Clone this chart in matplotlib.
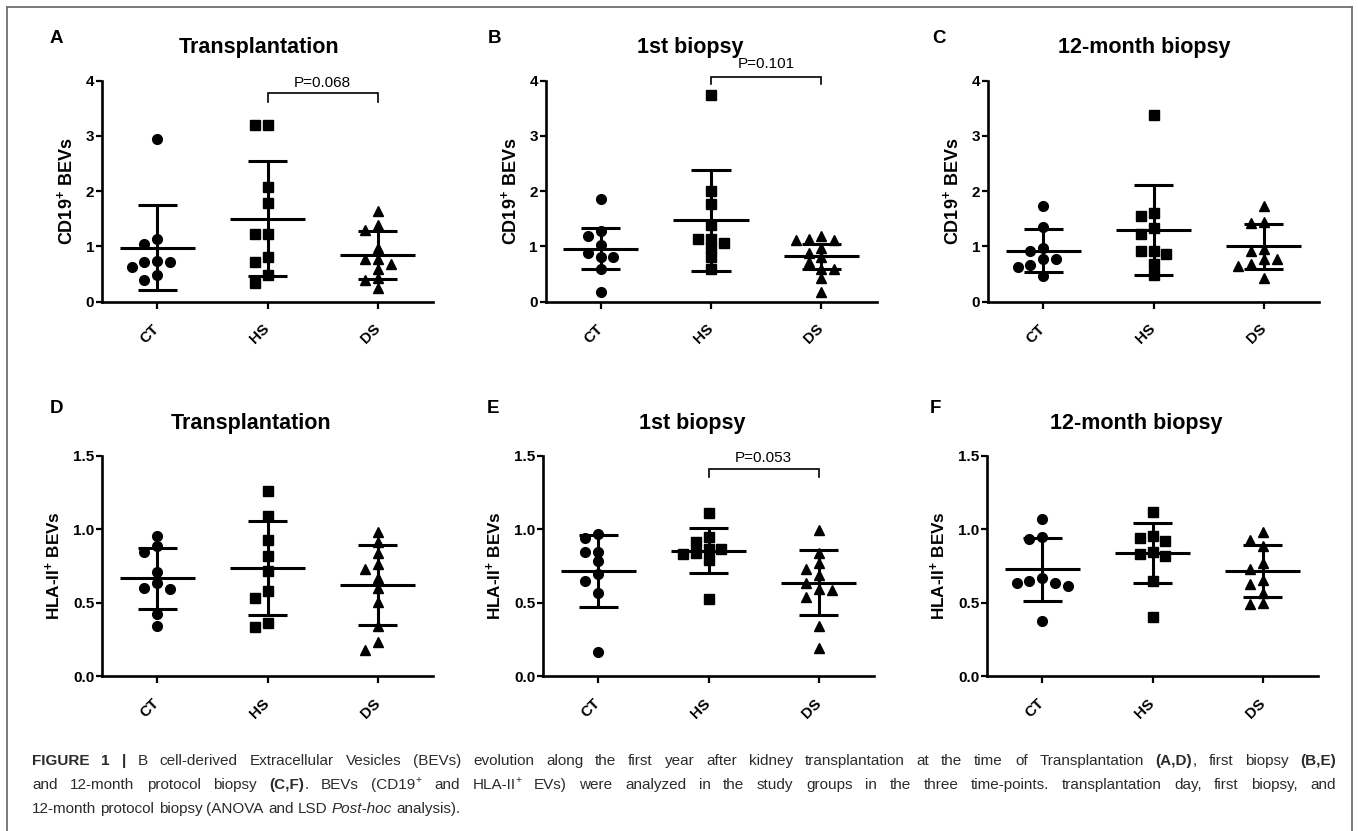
import re
import matplotlib
matplotlib.use("Agg")
import matplotlib.pyplot as plt
from matplotlib.lines import Line2D

plt.rcParams['font.family'] = ['Liberation Sans', 'DejaVu Sans']
plt.rcParams['mathtext.fontset'] = 'custom'
plt.rcParams['mathtext.rm'] = 'Liberation Sans'
plt.rcParams['mathtext.bf'] = 'Liberation Sans:bold'
plt.rcParams['mathtext.it'] = 'Liberation Sans:italic'

W, H = 1358, 831

# ---------------- data ----------------
groups = ["CT", "HS", "DS"]
titles_top = ["Transplantation", "1st biopsy", "12-month biopsy"]
titles_bot = ["Transplantation", "1st biopsy", "12-month biopsy"]
letters_top = ["A", "B", "C"]
letters_bot = ["D", "E", "F"]

# CD19+ BEVs
a_ct = [2.94, 1.13, 1.04, 0.74, 0.72, 0.72, 0.62, 0.49, 0.40]
a_hs = [3.19, 3.19, 2.08, 1.79, 1.22, 1.22, 0.80, 0.71, 0.48, 0.34]
a_ds = [1.65, 1.38, 1.29, 0.98, 0.77, 0.77, 0.68, 0.59, 0.42, 0.40, 0.24]
a_mean = [0.98, 1.505, 0.845]
a_sd = [0.77, 1.045, 0.443]

b_ct = [1.86, 1.28, 1.19, 1.03, 0.89, 0.81, 0.80, 0.59, 0.17]
b_hs = [3.75, 2.01, 1.77, 1.39, 1.13, 1.13, 1.06, 0.97, 0.80, 0.60]
b_ds = [1.19, 1.13, 1.11, 1.11, 0.97, 0.89, 0.80, 0.72, 0.60, 0.60, 0.42, 0.18]
b_mean = [0.958, 1.47, 0.82]
b_sd = [0.37, 0.913, 0.227]

c_ct = [1.73, 1.36, 0.97, 0.92, 0.77, 0.77, 0.66, 0.62, 0.46]
c_hs = [3.38, 1.61, 1.55, 1.33, 1.22, 0.92, 0.92, 0.86, 0.68, 0.48]
c_ds = [1.74, 1.45, 1.43, 0.95, 0.92, 0.78, 0.78, 0.69, 0.65, 0.43]
c_mean = [0.92, 1.30, 1.0]
c_sd = [0.39, 0.82, 0.41]

# HLA-II+ BEVs
d_ct = [0.953, 0.887, 0.846, 0.71, 0.635, 0.60, 0.59, 0.42, 0.34]
d_hs = [1.26, 1.09, 0.926, 0.817, 0.715, 0.579, 0.533, 0.358, 0.331]
d_ds = [0.978, 0.914, 0.84, 0.76, 0.728, 0.665, 0.60, 0.506, 0.34, 0.23, 0.18]
d_mean = [0.665, 0.733, 0.62]
d_sd = [0.209, 0.32, 0.272]

e_ct = [0.967, 0.937, 0.846, 0.842, 0.785, 0.692, 0.649, 0.563, 0.161]
e_hs = [1.112, 0.944, 0.91, 0.865, 0.862, 0.835, 0.828, 0.79, 0.524]
e_ds = [0.994, 0.835, 0.77, 0.726, 0.688, 0.635, 0.592, 0.585, 0.54, 0.34, 0.188]
e_mean = [0.715, 0.853, 0.635]
e_sd = [0.247, 0.155, 0.222]

f_ct = [1.069, 0.948, 0.933, 0.669, 0.649, 0.635, 0.631, 0.613, 0.377]
f_hs = [1.119, 0.955, 0.937, 0.919, 0.842, 0.83, 0.819, 0.649, 0.404]
f_ds = [0.978, 0.926, 0.887, 0.771, 0.726, 0.653, 0.624, 0.563, 0.499, 0.488]
f_mean = [0.726, 0.835, 0.715]
f_sd = [0.216, 0.205, 0.178]

# significance annotations
p_labels = {"A": "P=0.068", "B": "P=0.101", "E": "P=0.053"}

top_yticks = [0, 1, 2, 3, 4]
bot_yticks = [0.0, 0.5, 1.0, 1.5]

# ---------------- figure ----------------
fig = plt.figure(figsize=(W / 100, H / 100), dpi=100)
fig.patch.set_facecolor("white")

def fx(px):
    return px / W

def fy(py):
    return 1 - py / H

# border (top, left, right)
border_col = "#6e6e6e"
fig.add_artist(Line2D([fx(7), fx(1352)], [fy(7), fy(7)], color=border_col, lw=1.3))
fig.add_artist(Line2D([fx(7), fx(7)], [fy(7), 0], color=border_col, lw=1.3))
fig.add_artist(Line2D([fx(1352), fx(1352)], [fy(7), 0], color=border_col, lw=1.3))

markers = ["o", "s", "^"]
msizes = [7.0, 6.5, 7.4]

def swarm_offsets(vals, px_per_unit, step, thr_px=8.5):
    order = sorted(range(len(vals)), key=lambda k: -vals[k])
    placed = []
    offs = [0.0] * len(vals)
    for k in order:
        for slot in [0, -1, 1, -2, 2, -3, 3]:
            ok = True
            for (s, v) in placed:
                if s == slot and abs(v - vals[k]) * px_per_unit < thr_px:
                    ok = False
                    break
            if ok:
                placed.append((slot, vals[k]))
                offs[k] = slot * step
                break
    return offs

def make_panel(left_px, top_px, bottom_px, data, means, sds, ymax, yticks, ylabel, ylfs,
               fmt, letter, title, title_x, letter_x, title_base, letter_base, pinfo=None):
    ax_w = 331
    ax = fig.add_axes([fx(left_px), fy(bottom_px), ax_w / W, (bottom_px - top_px) / H])
    ax.set_xlim(-0.5, 2.5)
    ax.set_ylim(0, ymax)
    px_per_unit = (bottom_px - top_px) / ymax
    step = 12.8 / (ax_w / 3.0)
    for i, vals in enumerate(data):
        offs = swarm_offsets(vals, px_per_unit, step)
        ax.plot([i + o for o in offs], vals, linestyle="none", marker=markers[i],
                ms=msizes[i], color="black", zorder=2, clip_on=False)
        m, s = means[i], sds[i]
        ax.vlines(i, m - s, m + s, color="black", lw=2.2, zorder=3)
        ax.hlines([m - s, m + s], i - 0.177, i + 0.177, color="black", lw=2.2, zorder=3)
        ax.hlines(m, i - 0.34, i + 0.34, color="black", lw=2.2, zorder=3)
    for sp in ["top", "right"]:
        ax.spines[sp].set_visible(False)
    for sp in ["left", "bottom"]:
        ax.spines[sp].set_linewidth(1.9)
    ax.set_yticks(yticks)
    ax.set_yticklabels([fmt.format(t) for t in yticks], fontsize=11, fontweight="bold")
    ax.set_xticks(range(3))
    ax.set_xticklabels(groups, fontsize=11, fontweight="bold", rotation=45,
                       ha="right", va="center", rotation_mode="anchor")
    ax.tick_params(axis="y", direction="out", length=4, width=1.6, pad=1.5)
    ax.tick_params(axis="x", direction="out", length=5, width=1.6, pad=13)
    ax.set_ylabel(ylabel, fontsize=ylfs, fontweight="bold", labelpad=7)
    fig.text(fx(letter_x), fy(letter_base), letter, fontsize=13.5, fontweight="bold",
             ha="left", va="baseline")
    fig.text(fx(title_x), fy(title_base), title, fontsize=15.5, fontweight="bold",
             ha="center", va="baseline")
    if pinfo is not None:
        ybar, ydrop, ytext, txt = pinfo
        ax.plot([1, 1, 2, 2], [ydrop, ybar, ybar, ydrop], color="black", lw=1.2,
                clip_on=False, solid_joinstyle="miter")
        ax.text(1.5, ytext, txt, fontsize=11, ha="center", va="center", clip_on=False)
    return ax

top_data = [([a_ct, a_hs, a_ds], a_mean, a_sd), ([b_ct, b_hs, b_ds], b_mean, b_sd),
            ([c_ct, c_hs, c_ds], c_mean, c_sd)]
bot_data = [([d_ct, d_hs, d_ds], d_mean, d_sd), ([e_ct, e_hs, e_ds], e_mean, e_sd),
            ([f_ct, f_hs, f_ds], f_mean, f_sd)]

top_left = [102, 545.5, 988]
bot_left = [102, 543, 987]
top_title_x = [259, 690, 1144]
bot_title_x = [251, 692, 1136]
top_letter_x = [50, 488, 932]
bot_letter_x = [50, 487, 930]
top_p = {0: (3.78, 3.62, 3.95, p_labels["A"]), 1: (4.06, 3.94, 4.30, p_labels["B"])}
bot_p = {1: (1.408, 1.354, 1.487, p_labels["E"])}

for j in range(3):
    d, m, s = top_data[j]
    make_panel(top_left[j], 80.7, 301.7, d, m, s, 4, top_yticks,
               r"CD19$^{\mathbf{+}}$ BEVs", 13.0, "{:d}", letters_top[j], titles_top[j],
               top_title_x[j], top_letter_x[j], 53, 43, top_p.get(j))
for j in range(3):
    d, m, s = bot_data[j]
    make_panel(bot_left[j], 455.7, 676, d, m, s, 1.5, bot_yticks,
               r"HLA-II$^{\mathbf{+}}$ BEVs", 12.3, "{:.1f}", letters_bot[j], titles_bot[j],
               bot_title_x[j], bot_letter_x[j], 429, 413, bot_p.get(j))

# ---------------- caption ----------------
renderer = fig.canvas.get_renderer()
cap_fs = 11.0
cap_col = "#2b2b2b"

def style_kw(st):
    if st == "b":
        return dict(fontweight="bold", fontsize=cap_fs)
    if st == "i":
        return dict(fontstyle="italic", fontsize=cap_fs)
    if st == "s":
        return dict(fontsize=cap_fs * 0.68)
    return dict(fontsize=cap_fs)

def text_width(s, st):
    t = fig.text(0, 0, s, **style_kw(st))
    w = t.get_window_extent(renderer).width
    t.remove()
    return w

def draw_caption_line(y_base, segments, x0, x1=None):
    atoms = []
    for txt, st in segments:
        for piece in re.split(r"( )", txt):
            if piece == "":
                continue
            atoms.append((piece, st))
    widths = []
    nsp = 0
    for piece, st in atoms:
        if piece == " ":
            widths.append(None)
            nsp += 1
        else:
            widths.append(text_width(piece, st))
    natural_sp = text_width("x x", "n") - text_width("xx", "n")
    wsum = sum(w for w in widths if w is not None)
    if x1 is not None and nsp > 0:
        sp = (x1 - x0 - wsum) / nsp
    else:
        sp = natural_sp
    x = x0
    for (piece, st), w in zip(atoms, widths):
        if w is None:
            x += sp
            continue
        dy = cap_fs * 0.42 * 100 / 72 if st == "s" else 0
        fig.text(fx(x), fy(y_base - dy), piece, color=cap_col, ha="left", va="baseline",
                 **style_kw(st))
        x += w

line1 = [("FIGURE 1 | ", "b"),
         ("B cell-derived Extracellular Vesicles (BEVs) evolution along the first year after kidney transplantation at the time of Transplantation ", "n"),
         ("(A,D)", "b"), (", first biopsy ", "n"), ("(B,E)", "b")]
line2 = [("and 12-month protocol biopsy ", "n"), ("(C,F)", "b"), (". BEVs (CD19", "n"), ("+", "s"),
         (" and HLA-II", "n"), ("+", "s"),
         (" EVs) were analyzed in the study groups in the three time-points. transplantation day, first biopsy, and", "n")]
line3 = [("12-month protocol biopsy (ANOVA and LSD ", "n"), ("Post-hoc", "i"), (" analysis).", "n")]

draw_caption_line(765, line1, 32, 1336)
draw_caption_line(789, line2, 32, 1336)
draw_caption_line(813, line3, 32)

fig.savefig("out.png", dpi=100, facecolor="white")
